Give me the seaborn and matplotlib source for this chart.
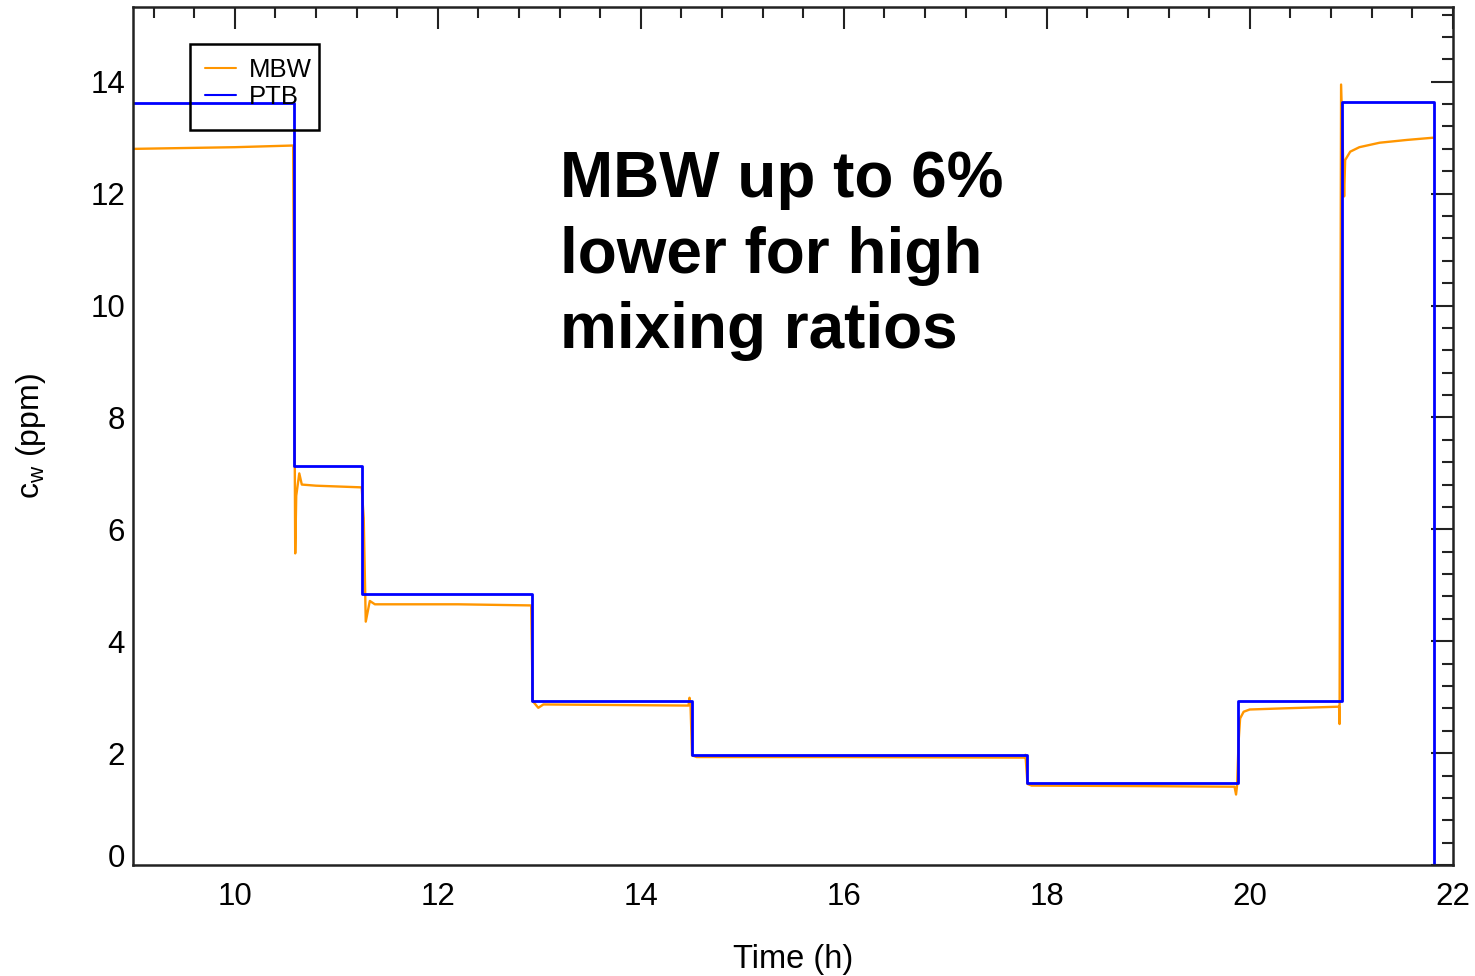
import matplotlib
matplotlib.use("Agg")
import matplotlib.pyplot as plt
from matplotlib.ticker import MultipleLocator
from matplotlib.patches import Rectangle
from matplotlib.transforms import ScaledTranslation
import numpy as np
import pandas as pd
import seaborn as sns

# PTB reference humidity: step levels (value holds from each time until the next)
ptb_time = [9.0, 10.586, 11.256, 12.93, 14.50, 17.806, 19.88, 20.91, 21.816]
ptb_cw = [13.62, 7.14, 4.845, 2.94, 1.97, 1.466, 2.94, 13.64, -0.5]

# MBW frost-point hygrometer trace
mbw_time = [9.0, 10.0, 10.575, 10.595, 10.605, 10.635, 10.66, 10.8, 11.25,
            11.27, 11.29, 11.33, 11.38, 12.2, 12.92, 12.935, 12.99, 13.04,
            14.47, 14.48, 14.49, 14.505, 14.55, 16.0, 17.78, 17.79, 17.81,
            17.85, 19.0, 19.85, 19.865, 19.875, 19.89, 19.905, 19.94, 20.0,
            20.33, 20.88, 20.885, 20.9, 20.93, 20.94, 20.99, 21.08, 21.28,
            21.55, 21.81]
mbw_cw = [12.80, 12.83, 12.86, 5.57, 6.6, 7.0, 6.80, 6.78, 6.75,
          6.2, 4.35, 4.72, 4.66, 4.66, 4.64, 2.93, 2.81, 2.87,
          2.85, 2.99, 2.86, 1.96, 1.93, 1.93, 1.92, 1.97, 1.45,
          1.42, 1.41, 1.40, 1.26, 1.42, 2.2, 2.62, 2.74, 2.78,
          2.80, 2.83, 2.52, 13.95, 11.95, 12.60, 12.75, 12.83, 12.91,
          12.96, 13.00]

x_ticks = [10, 12, 14, 16, 18, 20, 22]
y_ticks = [0, 2, 4, 6, 8, 10, 12, 14]

sns.set_theme(style="white")
plt.rcParams["font.family"] = ["Liberation Sans", "DejaVu Sans"]
plt.rcParams["mathtext.default"] = "regular"
plt.rcParams["text.color"] = "black"
plt.rcParams["axes.labelcolor"] = "black"
plt.rcParams["xtick.color"] = "black"
plt.rcParams["ytick.color"] = "black"

fig = plt.figure(figsize=(14.75, 9.76), dpi=100)
ax = fig.add_axes([0.0904, 0.1137, 0.8945, 0.8788])

mbw = pd.DataFrame({"t": mbw_time, "cw": mbw_cw})
ptb = pd.DataFrame({"t": ptb_time, "cw": ptb_cw})

sns.lineplot(data=mbw, x="t", y="cw", ax=ax, color="#FF9600", lw=1.7,
             sort=False, estimator=None, label="MBW")
sns.lineplot(data=ptb, x="t", y="cw", ax=ax, color="#0000FF", lw=2.0,
             sort=False, estimator=None, drawstyle="steps-post", label="PTB")

ax.set_xlim(9, 22)
ax.set_ylim(0, 15.33)
ax.set_xticks(x_ticks)
ax.set_yticks(y_ticks)
ax.xaxis.set_minor_locator(MultipleLocator(0.4))
ax.yaxis.set_minor_locator(MultipleLocator(0.4))
ax.tick_params(which="both", direction="in", top=True, right=True,
               width=1.5, color="#222222", labelsize=22.5)
ax.tick_params(which="major", length=16)
ax.tick_params(which="minor", length=8)
ax.tick_params(axis="x", pad=12)
ax.tick_params(axis="y", pad=6)
for s in ax.spines.values():
    s.set_linewidth(1.8)
    s.set_color("#222222")

# lift the "0" label so it sits above the bottom axis
zero_lbl = ax.yaxis.get_major_ticks()[0].label1
zero_lbl.set_transform(zero_lbl.get_transform()
                       + ScaledTranslation(0, 0.10, fig.dpi_scale_trans))

ax.set_xlabel("Time (h)", fontsize=23.5, labelpad=23)
ax.set_ylabel("c$_{w}$ (ppm)", fontsize=23, labelpad=30)

leg = ax.legend(loc="upper left", bbox_to_anchor=(0.043, 0.959),
                borderaxespad=0, fontsize=18.5, handlelength=1.2,
                handletextpad=0.5, labelspacing=0.13, borderpad=0.6,
                frameon=False)
for line in leg.get_lines():
    line.set_linewidth(1.5)
# legend frame
ax.add_patch(Rectangle((0.043, 0.857), 0.0977, 0.1002, transform=ax.transAxes,
                       fill=False, edgecolor="black", lw=1.8, zorder=5))

ax.text(13.2, 12.78, "MBW up to 6%\nlower for high\nmixing ratios",
        fontsize=46, fontweight="bold", ha="left", va="top",
        linespacing=1.33, color="black")

fig.savefig("out.png", dpi=100)
